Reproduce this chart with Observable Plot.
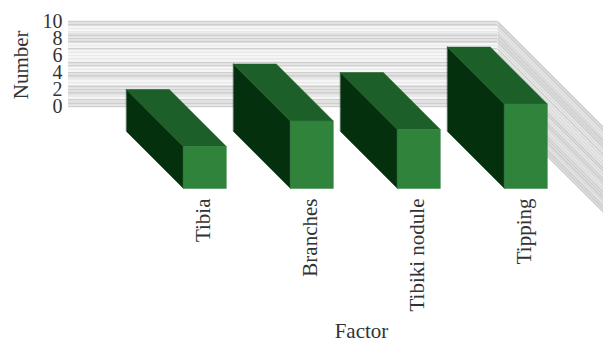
<!DOCTYPE html>
<html>
<head>
<meta charset="utf-8">
<script src="https://cdn.jsdelivr.net/npm/d3@7"></script>
<script src="https://cdn.jsdelivr.net/npm/@observablehq/plot@0.6"></script>
<style>
  html, body { margin: 0; padding: 0; background: #fff; }
  svg { display: block; }
</style>
</head>
<body>
<div id="chart"></div>
<script>
// Survey counts per factor
const categories = ["Tibia", "Branches", "Tibiki nodule", "Tipping"];
const values = [2, 5, 4, 7];
const yTicks = [0, 2, 4, 6, 8, 10];

// Oblique projection of the 3D columns, in scale units
const depthX = 0.533;
const depthY = 6.7;
const barWidth = 0.4;
const barBase = -2.94;
const wallLeft = -0.542;
const wallRight = 3.467;

const colors = { front: "#2f833a", top: "#1d5f28", side: "#05300d" };

const columns = categories.map((name, i) => ({ name, i, v: values[i] }));
const facePath = (points) => (c) => points(c).map(([x, y]) => ({ x, y, id: c.name }));
const sidePts = (c) => [[c.i, c.v], [c.i + depthX, c.v - depthY], [c.i + depthX, barBase - depthY], [c.i, barBase]];
const topPts = (c) => [[c.i, c.v], [c.i + barWidth, c.v], [c.i + barWidth + depthX, c.v - depthY], [c.i + depthX, c.v - depthY]];
const frontPts = (c) => [[c.i + depthX, c.v - depthY], [c.i + depthX + barWidth, c.v - depthY], [c.i + depthX + barWidth, barBase - depthY], [c.i + depthX, barBase - depthY]];

const faceMark = (points, fill) =>
  Plot.line(columns.flatMap(facePath(points)), {
    x: "x", y: "y", z: "id", fill, stroke: fill, strokeWidth: 0.5, curve: "linear-closed"
  });

// Fine gridlines on the back and side walls; the denser runs are shaded darker
const levels = d3.range(0, 51).map((k) => k / 5);
const denseRuns = [[9.5, 10], [7.5, 8.6], [6.7, 6.9], [4.8, 5.2], [3.3, 4], [1.3, 2.5], [0, 0.9]];
const inDense = (v) => denseRuns.some(([a, b]) => v >= a - 1e-6 && v <= b + 1e-6);
const odd = (v) => Math.round(v * 5) % 2 === 1;
const backShade = (v) => (inDense(v) ? (odd(v) ? "#e2e2e2" : "#cfcfcf") : (odd(v) ? "#f6f6f6" : "#e9e9e9"));
const sideShade = (v) => (inDense(v) ? (odd(v) ? "#dadada" : "#cacaca") : (odd(v) ? "#e6e6e6" : "#d8d8d8"));

const chart = Plot.plot({
  width: 603,
  height: 342,
  marginLeft: 68,
  marginRight: 0,
  marginTop: 0,
  marginBottom: 154,
  style: { fontFamily: "'Liberation Serif', serif", fontSize: "21px", color: "#333", background: "#fff" },
  x: { domain: [0, 3], range: [126, 447], axis: null },
  y: { domain: [0, 10], range: [106, 21], axis: null },
  marks: [
    Plot.ruleY(levels, { y: (d) => d, x1: wallLeft, x2: wallRight, stroke: backShade, strokeWidth: 1.7 }),
    Plot.link(levels, {
      x1: wallRight, y1: (d) => d,
      x2: wallRight + 2 * depthX, y2: (d) => d - 2 * depthY,
      stroke: sideShade, strokeWidth: 1.4
    }),
    faceMark(sidePts, colors.side),
    faceMark(topPts, colors.top),
    faceMark(frontPts, colors.front),
    Plot.axisY({ ticks: yTicks, tickSize: 0, tickPadding: 6, label: null, anchor: "left", fontSize: 20 }),
    Plot.axisX({
      ticks: columns.map((c) => c.i + depthX + barWidth / 2),
      tickFormat: (v) => categories[Math.round(v - depthX - barWidth / 2)],
      tickRotate: -90, tickSize: 0, tickPadding: 10, dx: -1.5, label: null, anchor: "bottom", fontSize: 21
    }),
    Plot.text(["Number"], { x: -0.98, y: 4.9, rotate: -90, text: (d) => d, fontSize: 21 }),
    Plot.text(["Factor"], { x: 2.196, y: -26.5, text: (d) => d, fontSize: 21 })
  ]
});
document.getElementById("chart").appendChild(chart);
</script>
</body>
</html>
